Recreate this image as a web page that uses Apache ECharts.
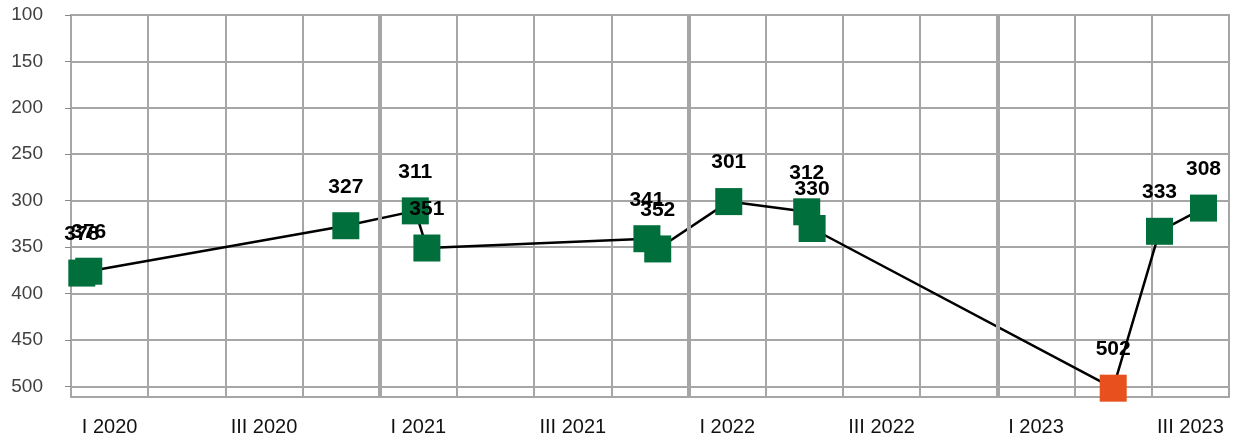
<!DOCTYPE html>
<html>
<head>
<meta charset="utf-8">
<script src="https://cdn.jsdelivr.net/npm/echarts@6/dist/echarts.min.js"></script>
<style>
  html, body { margin: 0; padding: 0; background: #fff; }
  #chart { width: 1245px; height: 443px; }
</style>
</head>
<body>
<div id="chart"></div>
<script>
// quarter labels on the bottom axis
var quarters = ['I 2020', 'II 2020', 'III 2020', 'IV 2020',
                'I 2021', 'II 2021', 'III 2021', 'IV 2021',
                'I 2022', 'II 2022', 'III 2022', 'IV 2022',
                'I 2023', 'II 2023', 'III 2023']
// position of each point, counted in quarters from the start of I 2020
var pointPos = [0.14, 0.23, 3.56, 4.46, 4.61, 7.46, 7.60, 8.52, 9.53, 9.60, 13.50, 14.10, 14.67]
var pointVal = [378, 376, 327, 311, 351, 341, 352, 301, 312, 330, 502, 333, 308]
var yTicks = [100, 150, 200, 250, 300, 350, 400, 450, 500]
var highlightIndex = 10

var GRID = '#a6a6a6'
var FONT = 'Liberation Sans, Arial, sans-serif'

// thicker lines where a new year starts
var yearBreaks = []
quarters.forEach(function(q, i) {
  if (i > 0 && q.indexOf('I ') === 0) yearBreaks.push(i)
})

var seriesData = pointPos.map(function(x, i) {
  var d = { value: [x, pointVal[i]] }
  if (i === highlightIndex) d.itemStyle = { color: '#e8501e' }
  return d
})

var chart = echarts.init(document.getElementById('chart'))
chart.setOption({
  animation: false,
  textStyle: { fontFamily: FONT },
  grid: {
    left: 71, right: 16, top: 15, bottom: 46,
    show: true, borderColor: GRID, borderWidth: 2
  },
  xAxis: [
    {
      type: 'value', min: 0, max: quarters.length, interval: 1,
      position: 'bottom',
      axisLine: { show: true, lineStyle: { color: GRID, width: 2 } },
      axisTick: { show: false },
      axisLabel: { show: false },
      splitLine: { show: true, lineStyle: { color: GRID, width: 2 } }
    },
    {
      type: 'category', data: quarters, boundaryGap: true,
      position: 'bottom',
      axisLine: { show: false },
      axisTick: { show: false },
      splitLine: { show: false },
      axisLabel: { interval: 1, margin: 20, fontSize: 20, color: '#111', fontFamily: FONT }
    }
  ],
  yAxis: {
    type: 'value', inverse: true, min: yTicks[0], max: 511.5, interval: 50,
    offset: 10,
    axisLine: { show: false },
    axisTick: { show: true, length: 6, customValues: yTicks, lineStyle: { color: '#888', width: 1 } },
    axisLabel: {
      margin: 18, fontSize: 19, color: '#404040', fontFamily: FONT,
      customValues: yTicks
    },
    splitLine: { show: true, lineStyle: { color: GRID, width: 2 } }
  },
  series: [
    {
      type: 'line', xAxisIndex: 0, data: [], z: 1, silent: true,
      markLine: {
        silent: true, symbol: 'none', animation: false,
        label: { show: false },
        lineStyle: { type: 'solid', color: GRID, width: 4 },
        data: yearBreaks.map(function(b) { return { xAxis: b } })
      }
    },
    {
      type: 'line', xAxisIndex: 0, z: 3,
      data: seriesData,
      symbol: 'rect', symbolSize: 27,
      itemStyle: { color: '#006f3b' },
      lineStyle: { color: '#000', width: 2.5 },
      label: {
        show: true, position: 'top', distance: 15,
        fontSize: 21, fontWeight: 'bold', color: '#000', fontFamily: FONT,
        formatter: function(p) { return p.value[1] }
      }
    }
  ]
})
</script>
</body>
</html>
